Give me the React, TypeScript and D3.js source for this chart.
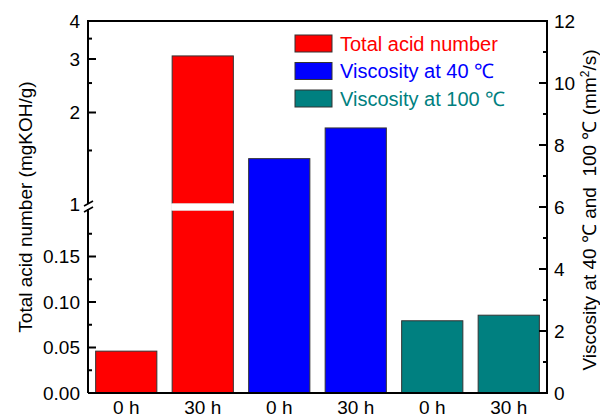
import React, { useEffect, useRef } from 'react';
import * as d3 from 'd3';

const categories = ['0 h', '30 h', '0 h', '30 h', '0 h', '30 h'];
const seriesNames = ['Total acid number', 'Viscosity at 40 \u2103', 'Viscosity at 100 \u2103'];
const seriesColors = ['#ff0000', '#0000ff', '#008080'];
const acidValues = [0.046, 3.07];
const visc40Values = [7.56, 8.55];
const visc100Values = [2.33, 2.51];
const lowerTicks = [0, 0.05, 0.1, 0.15];
const lowerMinor = [0.025, 0.075, 0.125, 0.175];
const upperTicks = [1, 2, 3, 4];
const upperMinor = [1.5, 2.5, 3.5];
const rightTicks = [0, 2, 4, 6, 8, 10, 12];
const rightMinor = [1, 3, 5, 7, 9, 11];

function App() {
  const ref = useRef<SVGSVGElement>(null);

  useEffect(() => {
    const width = 600;
    const height = 419;
    const margin = { top: 21, right: 53, bottom: 26, left: 88 };
    const font = 'Liberation Sans, Arial, sans-serif';

    const svg = d3.select(ref.current);
    svg.selectAll('*').remove();

    const x0 = margin.left;
    const x1 = width - margin.right;
    const yBottom = height - margin.bottom;
    const yTop = margin.top;

    const x = d3.scaleBand<number>()
      .domain(d3.range(categories.length))
      .range([x0, x1])
      .paddingInner(0.2)
      .paddingOuter(0.1);

    // broken left axis: linear bottom part, log upper part
    const yLow = d3.scaleLinear().domain([0, 0.2]).range([yBottom, 211]);
    const yHigh = d3.scaleLog().domain([1, 4]).range([204, yTop]);
    const yAcid = (v: number) => (v <= 0.2 ? yLow(v) : yHigh(v));
    const yRight = d3.scaleLinear().domain([0, 12]).range([yBottom, yTop]);

    const bars = [
      ...acidValues.map((v) => ({ s: 0, v, y: yAcid(v) })),
      ...visc40Values.map((v) => ({ s: 1, v, y: yRight(v) })),
      ...visc100Values.map((v) => ({ s: 2, v, y: yRight(v) })),
    ];

    svg.selectAll('rect.bar')
      .data(bars)
      .enter()
      .append('rect')
      .attr('class', 'bar')
      .attr('x', (_, i) => x(i)!)
      .attr('width', x.bandwidth())
      .attr('y', (d) => d.y)
      .attr('height', (d) => yBottom - d.y)
      .style('fill', (d) => seriesColors[d.s])
      .style('stroke', '#333')
      .style('stroke-width', 1);

    // gap for the axis break through the tall acid bar
    bars.forEach((d, i) => {
      if (d.s === 0 && d.v > 0.2) {
        svg.append('rect')
          .attr('x', x(i)! - 1)
          .attr('width', x.bandwidth() + 2)
          .attr('y', 203.5)
          .attr('height', 7)
          .style('fill', '#fff');
        [203.5, 210.5].forEach((yy) => {
          svg.append('line')
            .attr('x1', x(i)!).attr('x2', x(i)! + x.bandwidth())
            .attr('y1', yy).attr('y2', yy)
            .style('stroke', '#ddd').style('stroke-width', 0.6);
        });
      }
    });

    // frame
    svg.append('path')
      .attr('d', `M${x0},${yBottom}V${yTop}H${x1}V${yBottom}H${x0}`)
      .style('fill', 'none')
      .style('stroke', '#000')
      .style('stroke-width', 2);

    // break mark on left axis
    svg.append('rect').attr('x', x0 - 4).attr('y', 204).attr('width', 10).attr('height', 5).style('fill', '#fff');
    [203, 209].forEach((yy) => {
      svg.append('line')
        .attr('x1', x0 - 4).attr('y1', yy + 3)
        .attr('x2', x0 + 5).attr('y2', yy - 2)
        .style('stroke', '#000').style('stroke-width', 1.6);
    });

    const tickLen = 8;
    const minorLen = 4;
    const label = (sel: d3.Selection<SVGTextElement, unknown, null, undefined>) =>
      sel.style('font-family', font).style('font-size', '19px').style('fill', '#000');

    // left ticks
    lowerTicks.forEach((t) => {
      const yy = yLow(t);
      svg.append('line').attr('x1', x0).attr('x2', x0 + tickLen).attr('y1', yy).attr('y2', yy)
        .style('stroke', '#000').style('stroke-width', 2);
      svg.append('text').attr('x', x0 - 8).attr('y', yy).attr('dy', '0.35em')
        .attr('text-anchor', 'end').text(d3.format('.2f')(t)).call(label);
    });
    lowerMinor.forEach((t) => {
      const yy = yLow(t);
      svg.append('line').attr('x1', x0).attr('x2', x0 + minorLen).attr('y1', yy).attr('y2', yy)
        .style('stroke', '#000').style('stroke-width', 2);
    });
    upperTicks.forEach((t) => {
      const yy = yHigh(t);
      if (t > 1) {
        svg.append('line').attr('x1', x0).attr('x2', x0 + tickLen).attr('y1', yy).attr('y2', yy)
          .style('stroke', '#000').style('stroke-width', 2);
      }
      svg.append('text').attr('x', x0 - 8).attr('y', yy).attr('dy', '0.35em')
        .attr('text-anchor', 'end').text(String(t)).call(label);
    });
    upperMinor.forEach((t) => {
      const yy = yHigh(t);
      svg.append('line').attr('x1', x0).attr('x2', x0 + minorLen).attr('y1', yy).attr('y2', yy)
        .style('stroke', '#000').style('stroke-width', 2);
    });

    // right ticks
    rightTicks.forEach((t) => {
      const yy = yRight(t);
      svg.append('line').attr('x1', x1 - tickLen).attr('x2', x1).attr('y1', yy).attr('y2', yy)
        .style('stroke', '#000').style('stroke-width', 2);
      svg.append('text').attr('x', x1 + 7).attr('y', yy).attr('dy', '0.35em')
        .attr('text-anchor', 'start').text(String(t)).call(label);
    });
    rightMinor.forEach((t) => {
      const yy = yRight(t);
      svg.append('line').attr('x1', x1 - minorLen).attr('x2', x1).attr('y1', yy).attr('y2', yy)
        .style('stroke', '#000').style('stroke-width', 2);
    });

    // x labels
    categories.forEach((c, i) => {
      svg.append('text')
        .attr('x', x(i)! + x.bandwidth() / 2)
        .attr('y', yBottom + 21)
        .attr('text-anchor', 'middle')
        .text(c)
        .call(label);
    });

    // axis titles
    svg.append('text')
      .attr('transform', `translate(32, ${(yTop + yBottom) / 2}) rotate(-90)`)
      .attr('text-anchor', 'middle')
      .text('Total acid number (mgKOH/g)')
      .call(label);

    const rt = svg.append('text')
      .attr('transform', `translate(596, ${(yTop + yBottom) / 2 + 3}) rotate(-90)`)
      .attr('text-anchor', 'middle')
      .style('white-space', 'pre')
      .call(label);
    rt.append('tspan').text('Viscosity at 40 \u2103 and  100 \u2103 (mm');
    rt.append('tspan').text('2').attr('dy', -7).style('font-size', '12px');
    rt.append('tspan').text('/s)').attr('dy', 7);

    // legend
    seriesNames.forEach((name, i) => {
      const ly = 35 + i * 27.5;
      svg.append('rect')
        .attr('x', 295).attr('y', ly).attr('width', 37).attr('height', 17)
        .style('fill', seriesColors[i]).style('stroke', '#333').style('stroke-width', 1);
      svg.append('text')
        .attr('x', 340).attr('y', ly + 8.5).attr('dy', '0.36em')
        .text(name)
        .call(label)
        .style('font-size', '20px')
        .style('fill', seriesColors[i]);
    });
  }, []);

  return (
    <svg ref={ref} width={600} height={419} style={{ position: 'absolute', left: 0, top: 0, background: '#fff' }} />
  );
}

export default App;
